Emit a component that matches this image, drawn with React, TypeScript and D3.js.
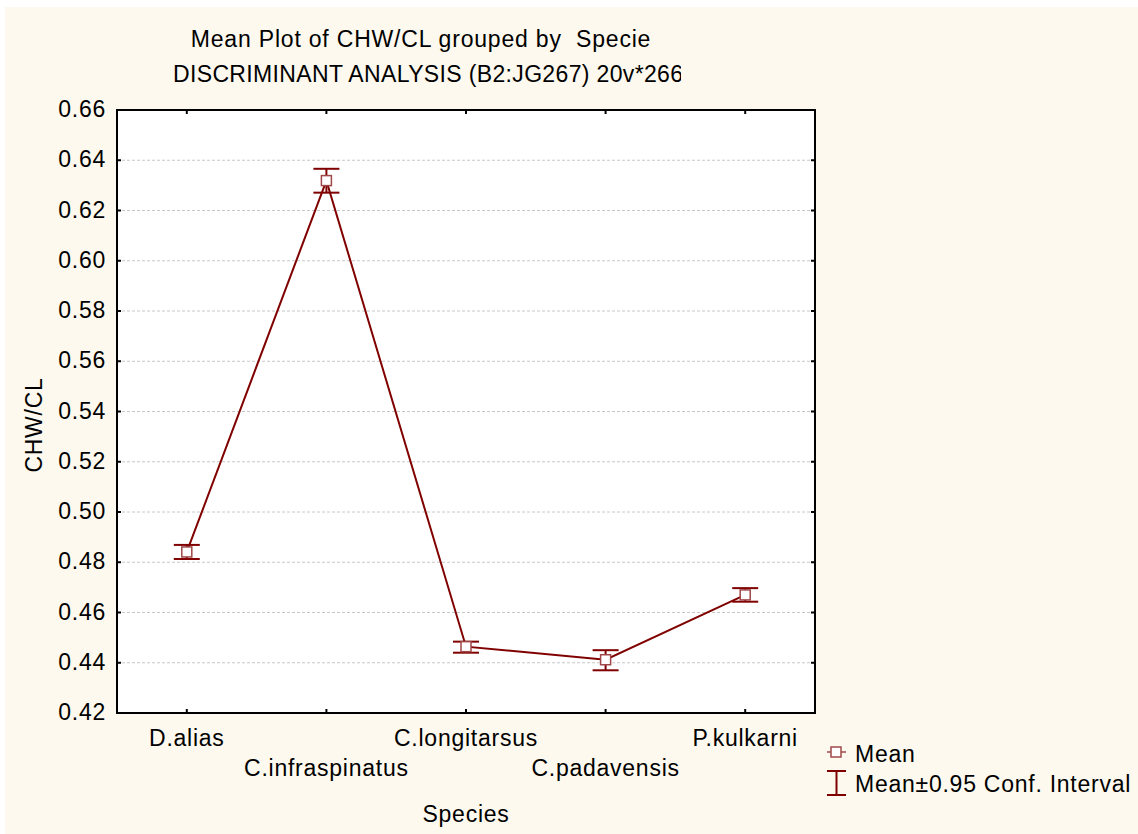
import React from "react";
import * as d3 from "d3";

// Species groups and their CHW/CL summary statistics
const species = ["D.alias", "C.infraspinatus", "C.longitarsus", "C.padavensis", "P.kulkarni"];
const means = [0.4841, 0.6319, 0.4464, 0.4412, 0.467];
const ciLower = [0.4813, 0.6271, 0.444, 0.437, 0.4643];
const ciUpper = [0.4869, 0.6366, 0.4484, 0.445, 0.4697];
const yTicks = [0.42, 0.44, 0.46, 0.48, 0.5, 0.52, 0.54, 0.56, 0.58, 0.6, 0.62, 0.64, 0.66];

const W = 1138;
const H = 834;
const plot = { left: 117, right: 815, top: 110, bottom: 713 };
const DARK_RED = "#800000";
const MARKER_RED = "#a04848";
const BG = "#fdf9ee";
const FONT = "'Liberation Sans', Arial, sans-serif";
const FS = 23;
const LS = 0.75;

export default function App() {
  const x = d3
    .scalePoint<string>()
    .domain(species)
    .range([plot.left, plot.right])
    .padding(0.5);
  const y = d3.scaleLinear().domain([0.42, 0.66]).range([plot.bottom, plot.top]);

  const line = d3
    .line<number>()
    .x((_, i) => x(species[i]) as number)
    .y((d) => y(d));

  const capHalf = 13;
  const mk = 5;

  return (
    <svg
      width={W}
      height={H}
      style={{ position: "absolute", left: 0, top: 0, display: "block" }}
      fontFamily={FONT}
      fontSize={FS}
      letterSpacing={LS}
    >
      <rect x={0} y={0} width={W} height={H} fill="#ffffff" />
      <rect x={5} y={7} width={W - 5} height={H - 7} fill={BG} />

      {/* titles */}
      <text x={421} y={47} textAnchor="middle" fill="#000" letterSpacing={0.8} style={{ whiteSpace: "pre" }}>
        Mean Plot of CHW/CL grouped by  Specie
      </text>
      <clipPath id="sub-clip">
        <rect x={0} y={50} width={681} height={40} />
      </clipPath>
      <text x={173} y={82} fill="#000" letterSpacing={0.35} clipPath="url(#sub-clip)">
        DISCRIMINANT ANALYSIS (B2:JG267) 20v*266
      </text>

      {/* plot area */}
      <rect
        x={plot.left}
        y={plot.top}
        width={plot.right - plot.left}
        height={plot.bottom - plot.top}
        fill="#ffffff"
      />

      {/* horizontal grid */}
      {yTicks.slice(1, -1).map((t) => (
        <line
          key={"g" + t}
          x1={plot.left}
          x2={plot.right}
          y1={y(t)}
          y2={y(t)}
          stroke="#c8c8c8"
          strokeWidth={1}
          strokeDasharray="3,2"
        />
      ))}

      {/* y ticks (inside, both sides) and labels */}
      {yTicks.map((t) => (
        <g key={"yt" + t}>
          <line x1={plot.left} x2={plot.left + 4} y1={y(t)} y2={y(t)} stroke="#000" strokeWidth={2} />
          <line x1={plot.right - 4} x2={plot.right} y1={y(t)} y2={y(t)} stroke="#000" strokeWidth={2} />
          <text x={106} y={y(t) + 7} textAnchor="end" fill="#000">
            {t.toFixed(2)}
          </text>
        </g>
      ))}

      {/* x ticks (inside, top and bottom) and staggered labels */}
      {species.map((s, i) => (
        <g key={"xt" + s}>
          <line x1={x(s)} x2={x(s)} y1={plot.bottom} y2={plot.bottom - 4} stroke="#000" strokeWidth={2} />
          <line x1={x(s)} x2={x(s)} y1={plot.top} y2={plot.top + 4} stroke="#000" strokeWidth={2} />
          <text x={x(s)} y={i % 2 === 0 ? 746 : 776} textAnchor="middle" fill="#000">
            {s}
          </text>
        </g>
      ))}

      {/* frame */}
      <rect
        x={plot.left}
        y={plot.top}
        width={plot.right - plot.left}
        height={plot.bottom - plot.top}
        fill="none"
        stroke="#000"
        strokeWidth={2}
      />

      {/* mean line */}
      <path d={line(means) || ""} fill="none" stroke={DARK_RED} strokeWidth={2} />

      {/* confidence intervals */}
      {species.map((s, i) => {
        const cx = x(s) as number;
        return (
          <g key={"ci" + s} stroke={DARK_RED} strokeWidth={2}>
            <line x1={cx} x2={cx} y1={y(ciUpper[i])} y2={y(ciLower[i])} />
            <line x1={cx - capHalf} x2={cx + capHalf} y1={y(ciUpper[i])} y2={y(ciUpper[i])} />
            <line x1={cx - capHalf} x2={cx + capHalf} y1={y(ciLower[i])} y2={y(ciLower[i])} />
          </g>
        );
      })}

      {/* mean markers */}
      {species.map((s, i) => (
        <rect
          key={"m" + s}
          x={(x(s) as number) - mk}
          y={y(means[i]) - mk}
          width={mk * 2}
          height={mk * 2}
          fill="#ffffff"
          stroke={MARKER_RED}
          strokeWidth={1.5}
        />
      ))}

      {/* axis titles */}
      <text transform={`translate(42,425) rotate(-90)`} textAnchor="middle" fill="#000">
        CHW/CL
      </text>
      <text x={466} y={822} textAnchor="middle" fill="#000">
        Species
      </text>

      {/* legend */}
      <g>
        <line x1={827} x2={846} y1={752} y2={752} stroke={MARKER_RED} strokeWidth={1.5} />
        <rect x={831} y={747} width={10} height={10} fill="#ffffff" stroke={MARKER_RED} strokeWidth={1.5} />
        <text x={855} y={762} fill="#000">
          Mean
        </text>
        <g stroke={DARK_RED} strokeWidth={2}>
          <line x1={836.5} x2={836.5} y1={771} y2={795} />
          <line x1={827} x2={846} y1={771} y2={771} />
          <line x1={827} x2={846} y1={795} y2={795} />
        </g>
        <text x={855} y={792} fill="#000">
          Mean±0.95 Conf. Interval
        </text>
      </g>
    </svg>
  );
}
